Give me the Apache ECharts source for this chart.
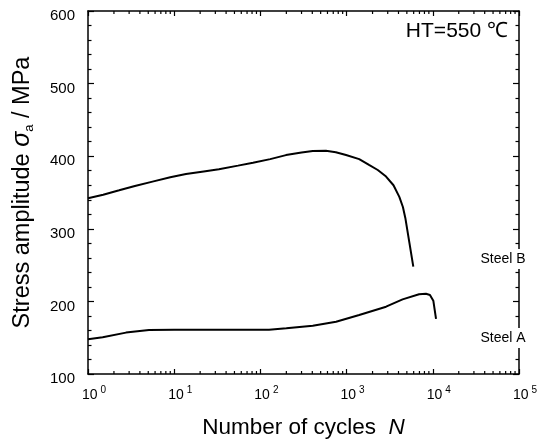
<!DOCTYPE html>
<html>
<head>
<meta charset="utf-8">
<script src="https://cdn.jsdelivr.net/npm/echarts@6/dist/echarts.min.js"></script>
<style>
html,body{margin:0;padding:0;background:#fff;}
#main{width:545px;height:441px;}
</style>
</head>
<body>
<div id="main"></div>
<script>
// cycles N vs stress amplitude (MPa)
var steelB = [[1,342],[1.5,347],[2.3,353],[3.5,359],[5.6,365],[9,371],[13.7,375.5],[22,379],[33,382],
	[55,387],[82,391],[130,396],[198,401.5],[300,405],[405,407.2],[575,407.6],[750,405.5],[985,401.7],
	[1400,396],[1820,388],[2300,381],[2870,372],[3500,360],[4090,344],[4500,330],[4800,315],[5350,281],[5940,248]];
var steelA = [[1,148],[1.48,150.5],[2.76,157],[5.1,160.6],[10,161],[50,161],[126,161],[200,163],[405,166.6],
	[755,172],[1400,181.3],[2870,192.7],[4460,202.8],[6930,209.8],[8330,210.5],[9270,208.8],[10140,201],[10900,176]];
var minorTicksN = [2,3,4,5,6,7,8,9,20,30,40,50,60,70,80,90,200,300,400,500,600,700,800,900,
	2000,3000,4000,5000,6000,7000,8000,9000,20000,30000,40000,50000,60000,70000,80000,90000];
var yTicks = {min:100,max:600,step:100};
var xRange = {min:1,max:100000};

var font = "'Liberation Sans', Arial, sans-serif";
var myChart = echarts.init(document.getElementById('main'));

function xLabel(v){
	var e = Math.round(Math.log(v)/Math.LN10);
	return '{p| }{b|10}{s|'+e+'}';
}

var option = {
	backgroundColor:'#fff',
	animation:false,
	textStyle:{fontFamily:font,color:'#000'},
	grid:{left:88,right:26,top:11,bottom:67,outerBoundsMode:'none'},
	xAxis:[{
		type:'log',logBase:10,min:xRange.min,max:xRange.max,
		axisLine:{lineStyle:{color:'#000',width:1.5}},
		axisTick:{inside:true,length:5,lineStyle:{color:'#000',width:1.2}},
		splitLine:{show:false},
		axisLabel:{margin:11,formatter:xLabel,color:'#000',
			rich:{
				p:{width:12,fontSize:14},
				b:{fontSize:14,lineHeight:20,fontFamily:font,color:'#000'},
				s:{fontSize:10,lineHeight:10,verticalAlign:'top',padding:[0,0,0,3],fontFamily:font,color:'#000'}
			}},
		name:'{t|Number of cycles  }{i|N}',nameLocation:'middle',nameGap:42,
		nameTextStyle:{rich:{
			t:{fontSize:22.5,fontFamily:font,color:'#000'},
			i:{fontSize:22.5,fontStyle:'italic',fontFamily:font,color:'#000'}
		}}
	},{
		type:'log',logBase:10,min:xRange.min,max:xRange.max,position:'top',
		axisLine:{lineStyle:{color:'#000',width:1.5}},
		axisTick:{inside:true,length:5,lineStyle:{color:'#000',width:1.2}},
		axisLabel:{show:false},splitLine:{show:false}
	}],
	yAxis:[{
		type:'value',min:yTicks.min,max:yTicks.max,interval:yTicks.step,
		axisLine:{show:true,lineStyle:{color:'#000',width:1.5}},
		axisTick:{show:true,inside:true,length:6,lineStyle:{color:'#000',width:1.2}},
		minorTick:{show:true,splitNumber:5,length:3.5,lineStyle:{color:'#000',width:1.2}},
		splitLine:{show:false},
		axisLabel:{fontSize:15,margin:13,color:'#000',verticalAlign:'top',lineHeight:10},
		name:'{t|Stress amplitude }{g|σ}{sub|a}{t| / MPa}',nameLocation:'middle',nameGap:52,
		nameTextStyle:{rich:{
			t:{fontSize:23.5,fontFamily:font,color:'#000',lineHeight:27},
			g:{fontSize:25,fontStyle:'italic',fontFamily:font,color:'#000',lineHeight:27},
			sub:{fontSize:13,fontFamily:font,color:'#000',verticalAlign:'bottom',lineHeight:13}
		}}
	},{
		type:'value',min:yTicks.min,max:yTicks.max,interval:yTicks.step,position:'right',
		axisLine:{show:true,lineStyle:{color:'#000',width:1.5}},
		axisTick:{show:true,inside:true,length:6,lineStyle:{color:'#000',width:1.2}},
		minorTick:{show:true,splitNumber:5,length:3.5,lineStyle:{color:'#000',width:1.2}},
		splitLine:{show:false},axisLabel:{show:false}
	}],
	series:[{
		name:'Steel B',type:'line',data:steelB,showSymbol:false,
		lineStyle:{color:'#000',width:2}
	},{
		name:'Steel A',type:'line',data:steelA,showSymbol:false,
		lineStyle:{color:'#000',width:2}
	},{
		// minor ticks of the log axes (2..9 per decade)
		type:'custom',data:minorTicksN.map(function(n){return [n,yTicks.min];}),silent:true,clip:false,z:5,
		renderItem:function(params,api){
			var n = api.value(0);
			var b = api.coord([n,yTicks.min]);
			var t = api.coord([n,yTicks.max]);
			var st = {stroke:'#000',lineWidth:1.2};
			return {type:'group',children:[
				{type:'line',shape:{x1:b[0],y1:b[1],x2:b[0],y2:b[1]-3},style:st},
				{type:'line',shape:{x1:t[0],y1:t[1],x2:t[0],y2:t[1]+3},style:st}
			]};
		}
	}],
	graphic:[
		{type:'text',right:37,top:21,z:100,style:{text:'HT=550 ℃',fontSize:21,fontFamily:font,fill:'#000'}},
		{type:'text',x:503,y:259,z:100,style:{text:'Steel B',fontSize:14,fontFamily:font,fill:'#000',
			align:'center',verticalAlign:'middle',backgroundColor:'#fff',padding:[3,0,3,0]}},
		{type:'text',x:503,y:338,z:100,style:{text:'Steel A',fontSize:14,fontFamily:font,fill:'#000',
			align:'center',verticalAlign:'middle',backgroundColor:'#fff',padding:[3,0,3,0]}}
	]
};
myChart.setOption(option);
</script>
</body>
</html>
